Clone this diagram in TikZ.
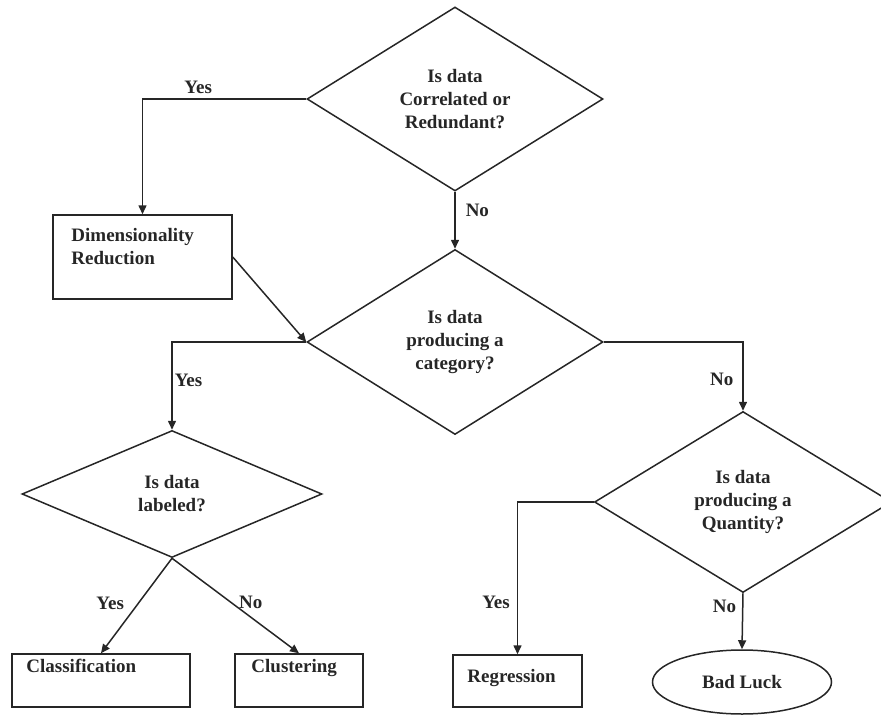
\documentclass[tikz,border=0pt]{standalone}
\usepackage{fontspec}
\setmainfont{Liberation Serif}
\usepackage{tikz}
\usetikzlibrary{positioning, arrows.meta, shapes.geometric}
\definecolor{flow-ink}{HTML}{262626}

\begin{document}
\begin{tikzpicture}[
    x=1pt, y=-1pt,
    every node/.style={font=\fontsize{19}{23}\selectfont\bfseries, text=flow-ink},
    decision/.style={draw=flow-ink, diamond, line width=1.5pt, inner sep=0pt, align=center},
    box/.style={draw=flow-ink, rectangle, line width=1.5pt},
    boxtext/.style={inner sep=0pt, align=left},
    flow/.style={draw=flow-ink, line width=1.5pt, -{Triangle[length=9pt,width=8pt]}},
    answer/.style={inner sep=2pt},
]
    \useasboundingbox (0,0) rectangle (881,715);
    \clip (0,0) rectangle (881,715);

    % Decisions
    \node[decision, minimum width=296pt, minimum height=184pt] (corr) at (455,99) {Is data\\Correlated or\\Redundant?};
    \node[decision, minimum width=296pt, minimum height=185pt] (cat) at (455,342) {Is data\\producing a\\category?};
    \node[decision, minimum width=300pt, minimum height=127pt] (lab) at (172,494) {Is data\\labeled?};
    \node[decision, minimum width=297pt, minimum height=181pt] (qty) at (743,502) {Is data\\producing a\\Quantity?};

    % Outcomes
    \node[box, minimum width=179pt, minimum height=84pt] (dimred) at (142.5,257) {};
    \node[boxtext, below right=14pt and 19pt of dimred.north west] (dimredtext) {Dimensionality\\Reduction};

    \node[box, minimum width=178pt, minimum height=53pt] (classif) at (101,680.5) {};
    \node[boxtext, below right=6pt and 15pt of classif.north west] (classiftext) {Classification};

    \node[box, minimum width=128pt, minimum height=53pt] (clust) at (299,680.5) {};
    \node[boxtext, below right=6pt and 17pt of clust.north west] (clusttext) {Clustering};

    \node[box, minimum width=129pt, minimum height=52pt] (regr) at (517.5,681) {};
    \node[boxtext, below right=15pt and 15pt of regr.north west] (regrtext) {Regression};

    \node[draw=flow-ink, ellipse, line width=1.5pt, minimum width=179pt, minimum height=64pt] (bad) at (742,682) {Bad Luck};

    % Connectors
    \draw[flow] (corr.west) -| node[answer, pos=0.33, above=3pt] (yes1) {Yes} (dimred.north);
    \draw[flow] (corr.south) -- node[answer, pos=0.33, right=8pt] (no1) {No} (cat.north);
    \draw[flow] (dimred.east) -- (cat.west);
    \draw[flow] (cat.west) -| node[answer, pos=0.72, right] (yes2) {Yes} (lab.north);
    \draw[flow] (cat.east) -| node[answer, pos=0.77, left=7pt] (no2) {No} (qty.north);
    \draw[flow] (lab.south) -- node[answer, pos=0.47, left=12pt] (yes3) {Yes} (classif.north);
    \draw[flow] (lab.south) -- node[answer, pos=0.46, right=6pt] (no3) {No} (clust.north);
    \draw[flow] (qty.west) -| node[answer, pos=0.83, left=5pt] (yes4) {Yes} (regr.north);
    \draw[flow] (qty.south) -- node[answer, pos=0.23, left=4pt] (no4) {No} (bad.north);
\end{tikzpicture}
\end{document}
